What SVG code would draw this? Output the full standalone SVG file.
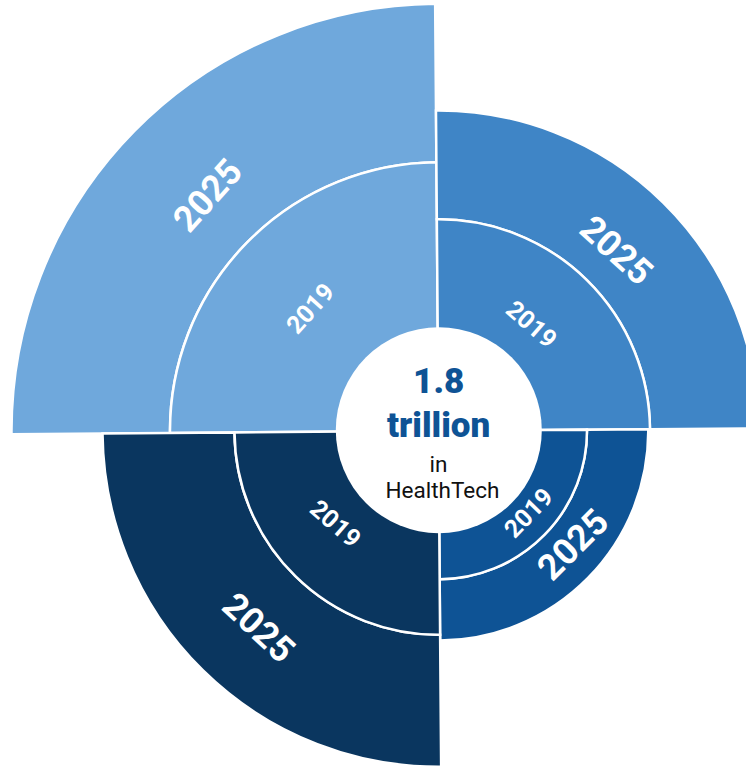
<svg xmlns="http://www.w3.org/2000/svg" width="746" height="766" viewBox="0 0 746 766">
<style>
.seg{stroke:#ffffff;stroke-width:2.5;stroke-linejoin:miter}
.tl{fill:#6FA8DC}
.tr{fill:#3F85C6}
.br{fill:#0E5395}
.bl{fill:#0A365F}
.lbl{font-family:Roboto,"Liberation Sans",sans-serif;font-weight:700;fill:#ffffff;text-anchor:middle}
.y25{font-size:36px}
.y19{font-size:25px}
.ctr{font-family:Roboto,"Liberation Sans",sans-serif;text-anchor:middle}
.big{font-size:35px;font-weight:900;fill:#0E5395}
.small{font-size:22.5px;fill:#111111}
</style>
<rect width="746" height="766" fill="#ffffff"/>
<g id="wedges" transform="translate(438.5 430.8) rotate(-0.45)">
  <g id="tl-2025"><path class="seg tl" d="M -427 0 A 427 427 0 0 1 0 -427 L 0 -268.5 A 268.5 268.5 0 0 0 -268.5 0 Z"/></g>
  <g id="tl-2019"><path class="seg tl" d="M -268.5 0 A 268.5 268.5 0 0 1 0 -268.5 L 0 0 Z"/></g>
  <g id="tr-2025"><path class="seg tr" d="M 0 -320.3 A 320.3 320.3 0 0 1 320.3 0 L 211.5 0 A 211.5 211.5 0 0 0 0 -211.5 Z"/></g>
  <g id="tr-2019"><path class="seg tr" d="M 0 -211.5 A 211.5 211.5 0 0 1 211.5 0 L 0 0 Z"/></g>
  <g id="br-2025"><path class="seg br" d="M 209.8 0 A 209.8 209.8 0 0 1 0 209.8 L 0 148.5 A 148.5 148.5 0 0 0 148.5 0 Z"/></g>
  <g id="br-2019"><path class="seg br" d="M 148.5 0 A 148.5 148.5 0 0 1 0 148.5 L 0 0 Z"/></g>
  <g id="bl-2025"><path class="seg bl" d="M 0 336 A 336 336 0 0 1 -336 0 L -204 0 A 204 204 0 0 0 0 204 Z"/></g>
  <g id="bl-2019"><path class="seg bl" d="M 0 204 A 204 204 0 0 1 -204 0 L 0 0 Z"/></g>
</g>
<g id="labels">
  <text class="lbl y25" transform="translate(207.3 195) rotate(-48)" dy="0.355em">2025</text>
  <text class="lbl y19" transform="translate(310 308.3) rotate(-48)" dy="0.355em">2019</text>
  <text class="lbl y25" transform="translate(616.7 250) rotate(42)" dy="0.355em">2025</text>
  <text class="lbl y19" transform="translate(531.7 324) rotate(41)" dy="0.355em">2019</text>
  <text class="lbl y25" transform="translate(572.5 544.2) rotate(-45)" dy="0.355em">2025</text>
  <text class="lbl y19" transform="translate(528.3 512.7) rotate(-46)" dy="0.355em">2019</text>
  <text class="lbl y19" transform="translate(335.7 523.3) rotate(41)" dy="0.355em">2019</text>
  <text class="lbl y25" transform="translate(259 627.3) rotate(43)" dy="0.355em">2025</text>
</g>
<g id="center">
  <circle cx="438.8" cy="430.2" r="103" fill="#ffffff"/>
  <text class="ctr big" x="438.7" y="392.5">1.8</text>
  <text class="ctr big" x="438.7" y="436.7">trillion</text>
  <text class="ctr small" x="438.5" y="472.3">in</text>
  <text class="ctr small" x="442.5" y="497.7">HealthTech</text>
</g>
</svg>
